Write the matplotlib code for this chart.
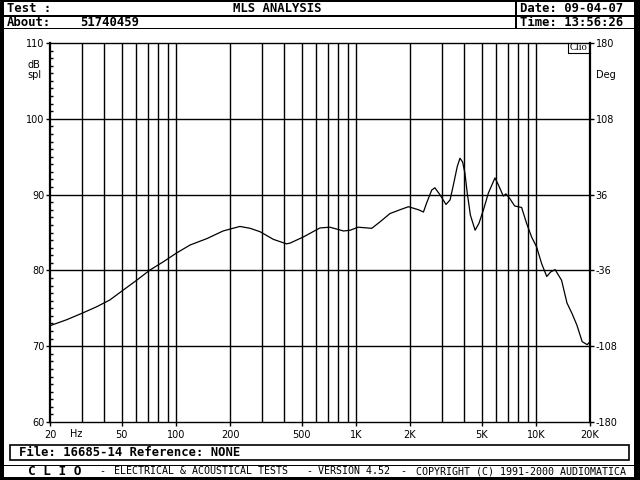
import matplotlib
matplotlib.use("Agg")
import matplotlib.pyplot as plt
from matplotlib.patches import Rectangle
from matplotlib.ticker import FixedLocator, NullFormatter

# response (Hz, dB spl)
freq = [20, 24.8, 30.5, 36.3, 43, 51, 60.6, 71.8, 85.4, 101, 120, 149, 183, 227,
        259, 294, 348, 412, 431, 510, 632, 718, 854, 930, 1030, 1226, 1362, 1548,
        1760, 1960, 2230, 2375, 2470, 2640, 2750, 2940, 3170, 3340, 3500, 3660,
        3790, 3920, 4040, 4160, 4330, 4600, 4830, 5120, 5450, 5930, 6190, 6600,
        6820, 7160, 7630, 8340, 8890, 9480, 10100, 10770, 11500, 12100, 12800,
        13900, 14900, 15900, 16900, 18100, 19300, 20000]
spl = [72.7, 73.5, 74.4, 75.2, 76.1, 77.4, 78.7, 80.05, 81.15, 82.3, 83.35, 84.2,
       85.2, 85.8, 85.55, 85.1, 84.1, 83.5, 83.6, 84.4, 85.6, 85.7, 85.2, 85.3,
       85.7, 85.55, 86.4, 87.5, 88.0, 88.4, 88.0, 87.7, 88.85, 90.6, 90.9, 89.95,
       88.7, 89.3, 91.5, 93.7, 94.8, 94.3, 92.8, 90.2, 87.3, 85.3, 86.2, 88.0,
       90.2, 92.2, 91.3, 89.8, 90.1, 89.5, 88.5, 88.3, 86.2, 84.4, 83.1, 80.9,
       79.2, 79.8, 80.1, 78.7, 75.7, 74.3, 72.8, 70.6, 70.2, 70.6]

xticks = [20, 50, 100, 200, 500, 1000, 2000, 5000, 10000, 20000]
xlabels = ['20', '50', '100', '200', '500', '1K', '2K', '5K', '10K', '20K']
grid_f = [30, 40, 50, 60, 70, 80, 90, 100, 200, 300, 400, 500, 600, 700, 800, 900,
          1000, 2000, 3000, 4000, 5000, 6000, 7000, 8000, 9000, 10000]
yticks = [60, 70, 80, 90, 100, 110]
phase_ticks = [-180, -108, -36, 36, 108, 180]

mono = 'DejaVu Sans Mono'

fig = plt.figure(figsize=(6.4, 4.8), dpi=100)
fig.patch.set_facecolor('black')

# frame drawn in pixel coordinates
bg = fig.add_axes([0, 0, 1, 1])
bg.set_xlim(0, 640)
bg.set_ylim(480, 0)
bg.axis('off')
for x0, y0, x1, y1 in [(4, 2, 515, 15), (516.5, 2, 634, 15),
                       (4, 16.5, 515, 27.5), (516.5, 16.5, 634, 27.5),
                       (4, 29, 634, 464.5), (4, 466, 634, 477)]:
    bg.add_patch(Rectangle((x0, y0), x1 - x0, y1 - y0, facecolor='white', edgecolor='none'))
bg.add_patch(Rectangle((10, 445), 619, 15, facecolor='none', edgecolor='black', lw=1.2))

hdr = dict(family=mono, weight='bold', fontsize=8.8, va='center')
bg.text(7, 9, 'Test :', **hdr)
bg.text(277, 9, 'MLS ANALYSIS', ha='center', **hdr)
bg.text(520, 9, 'Date: 09-04-07', **hdr)
bg.text(7, 22, 'About:', **hdr)
bg.text(80, 22, '51740459', **hdr)
bg.text(520, 22, 'Time: 13:56:26', **hdr)
bg.text(19, 453, 'File: 16685-14 Reference: NONE', **hdr)

ft = dict(family=mono, fontsize=7.2, va='center')
bg.text(28, 471.5, 'C L I O', weight='bold', family=mono, fontsize=9.2, va='center')
bg.text(99, 471.5, '-', **ft)
bg.text(114, 471.5, 'ELECTRICAL & ACOUSTICAL TESTS', **ft)
bg.text(306, 471.5, '-', **ft)
bg.text(318, 471.5, 'VERSION 4.52', **ft)
bg.text(400, 471.5, '-', **ft)
bg.text(416, 471.5, 'COPYRIGHT (C) 1991-2000 AUDIOMATICA', **ft)

lab = dict(family='DejaVu Sans', fontsize=7)
bg.text(27, 65, 'dB', va='center', **lab)
bg.text(27, 74.5, 'spl', va='center', **lab)
bg.text(596, 75, 'Deg', va='center', **lab)
bg.text(76, 434, 'Hz', va='center', ha='center', **lab)

# Clio tag box in the top right corner of the plot
bg.plot([568, 568, 590], [43, 53, 53], color='black', lw=0.8)
bg.text(578.5, 48, 'Clio', ha='center', va='center', family='Liberation Serif', fontsize=7.5)

# plot area
ax = fig.add_axes([50 / 640, (480 - 422) / 480, 540 / 640, 379 / 480])
ax.set_facecolor('none')
ax.set_xscale('log')
ax.set_xlim(20, 20000)
ax.set_ylim(60, 110)
for f in grid_f:
    ax.axvline(f, color='black', lw=1.0)
for y in yticks[1:-1]:
    ax.axhline(y, color='black', lw=1.0)
ax.plot(freq, spl, color='black', lw=0.9)

ax.xaxis.set_major_locator(FixedLocator(xticks))
ax.xaxis.set_minor_locator(FixedLocator([]))
ax.xaxis.set_minor_formatter(NullFormatter())
ax.set_xticklabels(xlabels)
ax.set_yticks(yticks)
ax.yaxis.set_minor_locator(FixedLocator(list(range(60, 111))))
ax.tick_params(axis='x', which='major', direction='out', length=3, width=1, pad=3,
               labelsize=7)
ax.tick_params(axis='y', which='major', direction='out', length=3, width=1, pad=1,
               labelsize=7)
ax.tick_params(axis='y', which='minor', direction='in', length=2.5, width=1,
               left=True, right=True)
for s in ax.spines.values():
    s.set_linewidth(1.0)
ax.spines['left'].set_linewidth(1.6)
ax.spines['right'].set_linewidth(1.6)

ax2 = ax.twinx()
ax2.set_ylim(-180, 180)
ax2.set_yticks(phase_ticks)
ax2.set_yticklabels([str(p) for p in phase_ticks])
ax2.tick_params(axis='y', direction='out', length=3, width=1, pad=1, labelsize=7)
for s in ax2.spines.values():
    s.set_visible(False)

fig.savefig('out.png', dpi=100, facecolor=fig.get_facecolor())
